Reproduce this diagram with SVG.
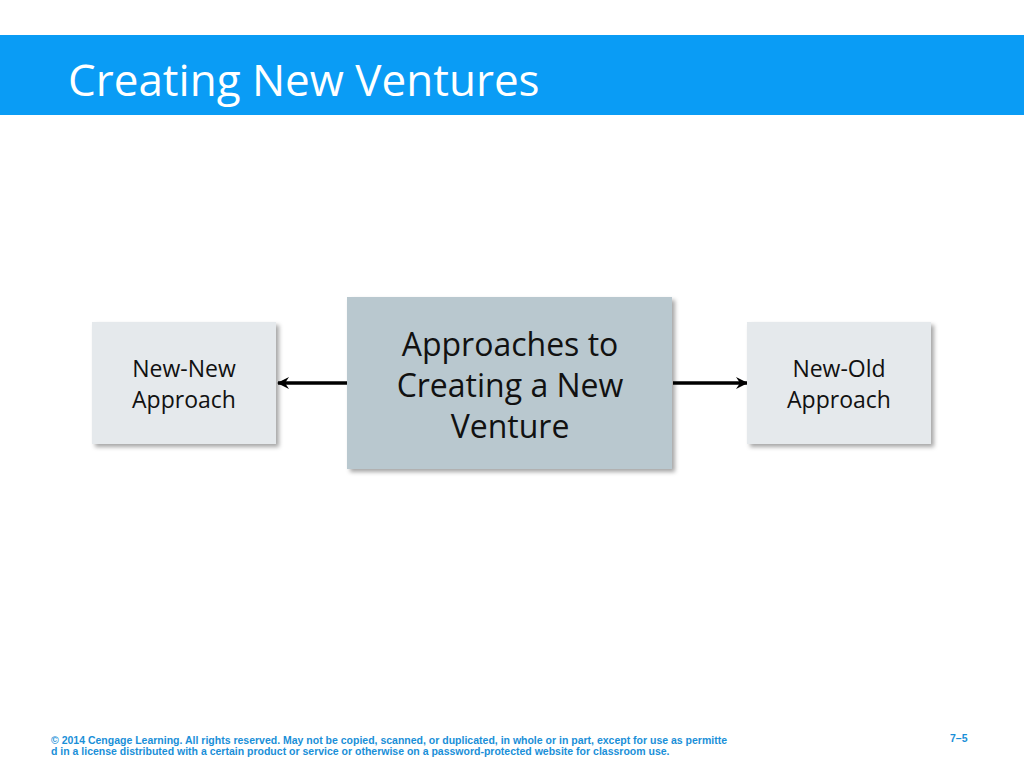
<svg xmlns="http://www.w3.org/2000/svg" width="1024" height="768" viewBox="0 0 1024 768">
<style>
.t{font-family:"Open Sans","Noto Sans",sans-serif;fill:#111;text-anchor:middle}
.f{font-family:"Liberation Sans",Arial,sans-serif;font-weight:bold;font-size:10.5px;fill:#1a8fd8}
</style>
<defs>
<filter id="sh" x="-10%" y="-10%" width="130%" height="130%"><feDropShadow dx="3" dy="3" stdDeviation="2" flood-color="#000" flood-opacity="0.35"/></filter>
<marker id="ah" viewBox="0 0 12 12" refX="11" refY="6" markerWidth="12" markerHeight="12" markerUnits="userSpaceOnUse" orient="auto-start-reverse"><path d="M0,0 L12,6 L0,12 L4,6 Z" fill="#000"/></marker>
</defs>
<rect width="1024" height="768" fill="#fff"/>
<rect x="0" y="35" width="1024" height="80" fill="#0a9cf5"/>
<text x="68" y="96" font-family="'Open Sans','Noto Sans',sans-serif" font-size="44" fill="#fff">Creating New Ventures</text>
<g id="connectors" stroke="#000" stroke-width="3.5" fill="none">
<line x1="347" y1="383" x2="278" y2="383" marker-end="url(#ah)"/>
<line x1="673" y1="383" x2="747" y2="383" marker-end="url(#ah)"/>
</g>
<g id="center"><rect x="347" y="297" width="325" height="172" fill="#b9c8cf" filter="url(#sh)"/>
<text class="t" font-size="32"><tspan x="510" y="356">Approaches to</tspan><tspan x="510" y="397">Creating a New</tspan><tspan x="510" y="438">Venture</tspan></text></g>
<g id="newnew"><rect x="92" y="322" width="184" height="122" fill="#e5e9ec" filter="url(#sh)"/>
<text class="t" font-size="23"><tspan x="184" y="377">New-New</tspan><tspan x="184" y="408">Approach</tspan></text></g>
<g id="newold"><rect x="747" y="322" width="184" height="122" fill="#e5e9ec" filter="url(#sh)"/>
<text class="t" font-size="23"><tspan x="839" y="377">New-Old</tspan><tspan x="839" y="408">Approach</tspan></text></g>
<text class="f" x="51" y="744">© 2014 Cengage Learning. All rights reserved. May not be copied, scanned, or duplicated, in whole or in part, except for use as permitte</text>
<text class="f" x="51" y="755">d in a license distributed with a certain product or service or otherwise on a password-protected website for classroom use.</text>
<text class="f" x="950" y="742" font-size="11">7–5</text>
</svg>
